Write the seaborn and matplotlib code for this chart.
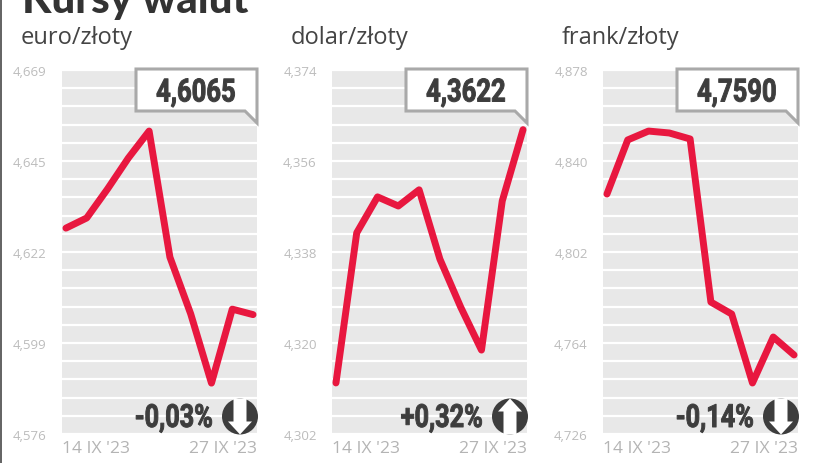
import numpy as np
import pandas as pd
import seaborn as sns
import matplotlib.pyplot as plt
import matplotlib.patheffects as pe
from matplotlib.patches import Polygon, Rectangle
from matplotlib.transforms import Affine2D

W, H = 821, 464

# values
sessions = ['14 IX', '15 IX', '18 IX', '19 IX', '20 IX', '21 IX', '22 IX', '25 IX', '26 IX', '27 IX']
euro = [4.6286, 4.6312, 4.6386, 4.6465, 4.6534, 4.6212, 4.6067, 4.5890, 4.6079, 4.6065]
dolar = [4.3121, 4.3418, 4.3489, 4.3471, 4.3503, 4.3366, 4.3271, 4.3186, 4.3481, 4.3622]
frank = [4.8262, 4.8488, 4.8525, 4.8517, 4.8492, 4.7811, 4.7761, 4.7473, 4.7665, 4.7590]

names = ['euro/złoty', 'dolar/złoty', 'frank/złoty']
series = [euro, dolar, frank]
y_labels = [['4,576', '4,599', '4,622', '4,645', '4,669'],
            ['4,302', '4,320', '4,338', '4,356', '4,374'],
            ['4,726', '4,764', '4,802', '4,840', '4,878']]
last_values = ['4,6065', '4,3622', '4,7590']
changes = ['-0,03%', '+0,32%', '-0,14%']
x_labels = ["14 IX '23", "27 IX '23"]

RED = '#e8173f'
DARK = '#3d3d3d'
GRAY = '#b4b4b4'

sns.set_style('white', {'axes.facecolor': '#e8e8e8'})
plt.rcParams['font.family'] = ['Open Sans', 'DejaVu Sans']

fig = plt.figure(figsize=(W / 100, H / 100), dpi=100)


class Squeeze(pe.AbstractPathEffect):
    # no condensed font installed, so squeeze the glyphs around an anchor pixel
    def __init__(self, factor, anchor):
        super().__init__()
        self.factor = factor
        self.anchor = anchor

    def draw_path(self, renderer, gc, tpath, affine, rgbFace=None):
        squeeze = Affine2D().translate(-self.anchor, 0).scale(self.factor, 1).translate(self.anchor, 0)
        gc0 = renderer.new_gc()
        gc0.copy_properties(gc)
        gc0.set_linewidth(0.7)
        gc0.set_foreground(DARK)
        renderer.draw_path(gc0, tpath, affine + squeeze, rgbFace)
        gc0.restore()


def px(x, y):
    # picture pixels to figure fraction
    return x / W, 1 - y / H


def draw_panel(name, values, labels, last, change, left):
    right, top, bottom = left + 195, 71, 435
    ax = fig.add_axes([left / W, 1 - bottom / H, (right - left) / W, (bottom - top) / H])
    df = pd.DataFrame({'sesja': np.arange(len(sessions)), 'kurs': values})
    sns.lineplot(data=df, x='sesja', y='kurs', ax=ax, color=RED, linewidth=5.0,
                 solid_capstyle='round', solid_joinstyle='round', zorder=3)

    low = float(labels[0].replace(',', '.'))
    high = float(labels[-1].replace(',', '.'))
    ax.set_ylim(low, high)
    ax.set_xlim(-0.19, len(sessions) - 1 + 0.19)
    # the printed labels are rounded, their rows are evenly spaced
    ax.set_yticks(np.linspace(low, high, len(labels)))
    ax.set_yticklabels(labels, va='center_baseline')
    ax.set_yticks(np.linspace(low, high, 21), minor=True)
    ax.grid(True, which='both', axis='y', color='white', linewidth=1.6)
    ax.set_axisbelow(True)
    ax.set_xticks(ax.get_xlim())
    ax.set_xticklabels(x_labels)
    ax.get_xticklabels()[0].set_ha('left')
    ax.get_xticklabels()[1].set_ha('right')
    ax.set_xlabel('')
    ax.set_ylabel('')
    ax.tick_params(which='both', length=0)
    ax.tick_params(axis='y', labelsize=9.5, labelcolor='#bcbcbc', pad=11)
    ax.tick_params(axis='x', labelsize=12.6, labelcolor=GRAY, pad=4)
    sns.despine(ax=ax, left=True, bottom=True)

    fig.text(*px(left - 41.5, 38.5), name, fontsize=17, color='#444444', va='center')

    # callout with the last quote
    box = [(left + 74, 70), (right, 70), (right, 124), (right - 12, 112), (left + 74, 112)]
    fig.add_artist(Polygon([px(*p) for p in box], closed=True, facecolor='white',
                           edgecolor='#a9a9a9', linewidth=2.2, transform=fig.transFigure, zorder=5))
    fig.text(*px(left + 134, 93.5), last, fontsize=23, fontweight='bold', color=DARK,
             family='Roboto', ha='center', va='center', zorder=6,
             path_effects=[Squeeze(0.8, left + 134)])

    # change and the arrow badge
    fig.text(*px(left + 151, 419), change, fontsize=23, fontweight='bold', color=DARK,
             family='Roboto', ha='right', va='center', zorder=6,
             path_effects=[Squeeze(0.79, left + 151)])
    cx, cy = left + 178, 417.5
    fig.add_artist(plt.Circle((cx, H - cy), 18, facecolor=DARK, edgecolor='none',
                              transform=None, zorder=6))
    d = 1 if change.startswith('-') else -1
    arrow = [(cx - 6.5, cy - d * 18), (cx + 6.5, cy - d * 18), (cx + 6.5, cy + d * 5),
             (cx + 12, cy + d * 5), (cx, cy + d * 18), (cx - 12, cy + d * 5), (cx - 6.5, cy + d * 5)]
    fig.add_artist(Polygon([(x, H - y) for x, y in arrow], closed=True, facecolor='white',
                           edgecolor='none', transform=None, zorder=7))
    return ax


for name, values, labels, last, change, left in zip(names, series, y_labels, last_values, changes, [62, 332, 603]):
    draw_panel(name, values, labels, last, change, left)

fig.text(*px(22, 13), 'Kursy walut', fontsize=30.3, fontweight=900, family='Lato', color='#333333', va='baseline')
fig.add_artist(Rectangle((0, 0), 2 / W, 1, facecolor='#666666', edgecolor='none', transform=fig.transFigure))

fig.savefig('out.png', dpi=100)
